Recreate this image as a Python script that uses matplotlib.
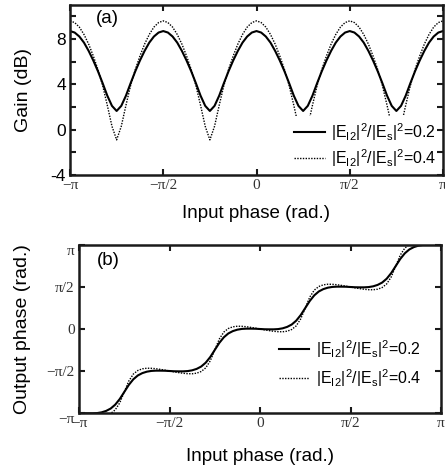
import numpy as np
import matplotlib
matplotlib.use("Agg")
import matplotlib.pyplot as plt

plt.rcParams['font.family'] = ['Liberation Sans', 'DejaVu Sans']
plt.rcParams['mathtext.fontset'] = 'custom'
plt.rcParams['mathtext.rm'] = 'Liberation Sans'
plt.rcParams['mathtext.it'] = 'Liberation Sans'

# ---- data (input phase in units of pi) ----
phase_in = [-1 + k / 40 for k in range(81)]

gain_02 = [
    8.70, 8.57, 8.22, 7.68, 6.95, 6.10, 5.15, 4.10, 3.00, 2.10, 1.65, 2.10, 3.00, 4.10, 5.15, 6.10, 6.95, 7.68, 8.22, 8.57,
    8.70, 8.57, 8.22, 7.68, 6.95, 6.10, 5.15, 4.10, 3.00, 2.10, 1.65, 2.10, 3.00, 4.10, 5.15, 6.10, 6.95, 7.68, 8.22, 8.57,
    8.70, 8.57, 8.22, 7.68, 6.95, 6.10, 5.15, 4.10, 3.00, 2.10, 1.65, 2.10, 3.00, 4.10, 5.15, 6.10, 6.95, 7.68, 8.22, 8.57,
    8.70, 8.57, 8.22, 7.68, 6.95, 6.10, 5.15, 4.10, 3.00, 2.10, 1.65, 2.10, 3.00, 4.10, 5.15, 6.10, 6.95, 7.68, 8.22, 8.57,
    8.70]
gain_04 = [
    9.60, 9.45, 9.05, 8.40, 7.55, 6.50, 5.30, 3.90, 2.15, 0.30, -0.90, 0.30, 2.15, 3.90, 5.30, 6.50, 7.55, 8.40, 9.05, 9.45,
    9.60, 9.45, 9.05, 8.40, 7.55, 6.50, 5.30, 3.90, 2.15, 0.30, -0.90, 0.30, 2.15, 3.90, 5.30, 6.50, 7.55, 8.40, 9.05, 9.45,
    9.60, 9.45, 9.05, 8.40, 7.55, 6.50, 5.30, 3.90, 2.15, 0.30, -0.90, 0.30, 2.15, 3.90, 5.30, 6.50, 7.55, 8.40, 9.05, 9.45,
    9.60, 9.45, 9.05, 8.40, 7.55, 6.50, 5.30, 3.90, 2.15, 0.30, -0.90, 0.30, 2.15, 3.90, 5.30, 6.50, 7.55, 8.40, 9.05, 9.45,
    9.60]

# output phase in units of pi
out_02 = [
    -1.000, -1.003, -1.004, -1.004, -1.001, -0.992, -0.975, -0.947, -0.901, -0.834, -0.750, -0.666, -0.599, -0.553, -0.525, -0.508, -0.499, -0.496, -0.496, -0.497,
    -0.500, -0.503, -0.504, -0.504, -0.501, -0.492, -0.475, -0.447, -0.401, -0.334, -0.250, -0.166, -0.099, -0.053, -0.025, -0.008, 0.001, 0.004, 0.004, 0.003,
    0.000, -0.003, -0.004, -0.004, -0.001, 0.008, 0.025, 0.053, 0.099, 0.166, 0.250, 0.334, 0.401, 0.447, 0.475, 0.492, 0.501, 0.504, 0.504, 0.503,
    0.500, 0.497, 0.496, 0.496, 0.499, 0.508, 0.525, 0.553, 0.599, 0.666, 0.750, 0.834, 0.901, 0.947, 0.975, 0.992, 1.001, 1.004, 1.004, 1.003,
    1.000]
out_04 = [
    -1.000, -1.010, -1.019, -1.027, -1.032, -1.033, -1.026, -1.006, -0.963, -0.880, -0.750, -0.620, -0.537, -0.494, -0.474, -0.467, -0.468, -0.473, -0.481, -0.490,
    -0.500, -0.510, -0.519, -0.527, -0.532, -0.533, -0.526, -0.506, -0.463, -0.380, -0.250, -0.120, -0.037, 0.006, 0.026, 0.033, 0.032, 0.027, 0.019, 0.010,
    0.000, -0.010, -0.019, -0.027, -0.032, -0.033, -0.026, -0.006, 0.037, 0.120, 0.250, 0.380, 0.463, 0.506, 0.526, 0.533, 0.532, 0.527, 0.519, 0.510,
    0.500, 0.490, 0.481, 0.473, 0.468, 0.467, 0.474, 0.494, 0.537, 0.620, 0.750, 0.880, 0.963, 1.006, 1.026, 1.033, 1.032, 1.027, 1.019, 1.010,
    1.000]

pi_ticks = [-1, -0.5, 0, 0.5, 1]
pi_labels = ['\u2212\u03c0', '\u2212\u03c0/2', '0', '\u03c0/2', '\u03c0']
gain_ticks = [-4, -2, 0, 2, 4, 6, 8, 10]
gain_labels = ['-4', '', '0', '', '4', '', '8', '']
series_labels = [r'$|\mathrm{E_{I2}}|^2/|\mathrm{E_s}|^2$=0.2',
                 r'$|\mathrm{E_{I2}}|^2/|\mathrm{E_s}|^2$=0.4']

fig = plt.figure(figsize=(4.45, 4.68), dpi=100)
axa = fig.add_axes([70/445, 1-175/468, 373/445, 170/468])
axb = fig.add_axes([79/445, 1-413/468, 362/445, 168/468])

lc = '#1a1a1a'
for ax in (axa, axb):
    for s in ax.spines.values():
        s.set_linewidth(1.8)
        s.set_color(lc)
        s.set_zorder(10)
    ax.tick_params(direction='in', length=4, width=1.5, top=True, right=True,
                   color=lc, labelsize=11, pad=3)
    ax.xaxis.set_zorder(10)
    ax.yaxis.set_zorder(10)
    ax.set_xlim(-1, 1)
    ax.set_xticks(pi_ticks, pi_labels, fontfamily='Liberation Serif', color='#333333')

# panel (a)
axa.plot(phase_in, gain_02, color='black', lw=1.5, label=series_labels[0])
axa.plot(phase_in, gain_04, color='black', lw=1.0, ls=(0, (1, 1)), label=series_labels[1])
axa.set_ylim(-4, 11)
axa.set_yticks(gain_ticks, gain_labels)
axa.tick_params(axis='y', labelsize=12.5)
axa.set_ylabel('Gain (dB)', fontsize=14, labelpad=13)
axa.set_xlabel('Input phase (rad.)', fontsize=13.5, labelpad=9)
axa.text(0.07, 0.97, '(a)', transform=axa.transAxes, fontsize=13.5, va='top', ha='left')
axa.legend(loc='lower right', bbox_to_anchor=(1.0, 0.0), borderaxespad=0.1,
           frameon=True, fancybox=False, edgecolor='none', facecolor='white',
           framealpha=1, fontsize=11.5, handlelength=1.9, handletextpad=0.4,
           labelspacing=0.25, borderpad=0.3)

# panel (b)
axb.plot(phase_in, out_02, color='black', lw=1.5, label=series_labels[0])
axb.plot(phase_in, out_04, color='black', lw=1.0, ls=(0, (1, 1)), label=series_labels[1])
axb.set_ylim(-1, 1)
axb.set_yticks(pi_ticks, pi_labels, fontfamily='Liberation Serif', color='#333333')
ylabs = axb.get_yticklabels()
ylabs[0].set_verticalalignment('top')
ylabs[-1].set_verticalalignment('top')
axb.set_ylabel('Output phase (rad.)', fontsize=14, labelpad=11)
axb.set_xlabel('Input phase (rad.)', fontsize=13.5, labelpad=13)
axb.text(0.05, 0.96, '(b)', transform=axb.transAxes, fontsize=13.5, va='top', ha='left')
axb.legend(loc='lower right', bbox_to_anchor=(0.985, 0.06), frameon=False,
           fontsize=11.5, handlelength=1.9, handletextpad=0.4, labelspacing=0.45)

fig.savefig('out.png', dpi=100)
